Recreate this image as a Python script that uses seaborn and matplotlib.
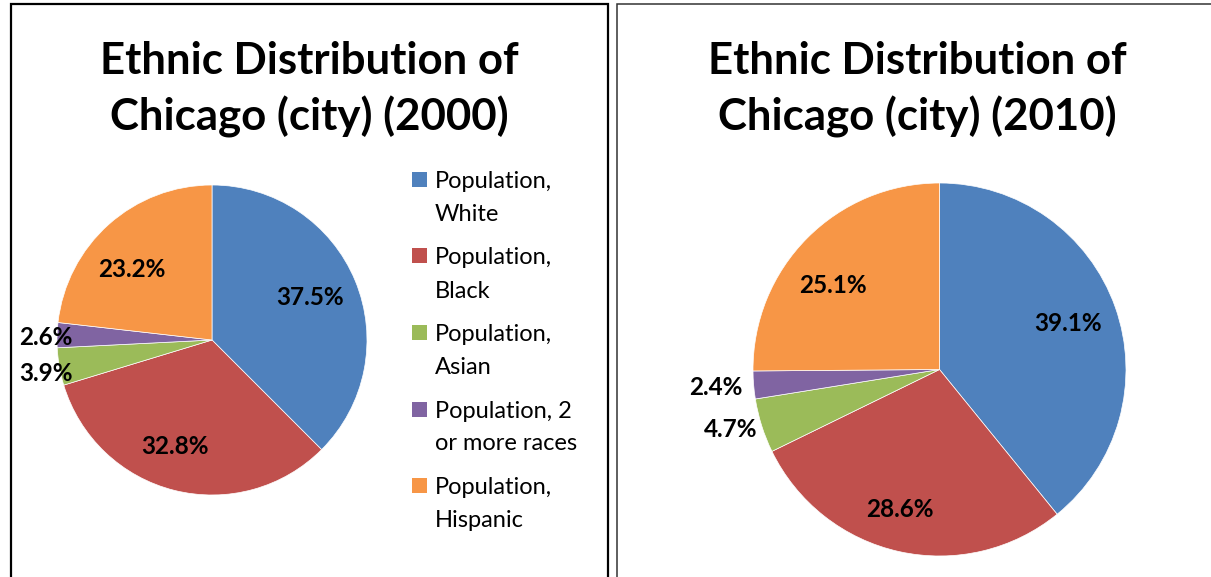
import matplotlib
matplotlib.use("Agg")
import matplotlib.pyplot as plt
from matplotlib.patches import Rectangle
import seaborn as sns

# Data
groups = ["Population, White", "Population, Black", "Population, Asian",
          "Population, 2 or more races", "Population, Hispanic"]
legend_labels = ["Population,\nWhite", "Population,\nBlack", "Population,\nAsian",
                 "Population, 2\nor more races", "Population,\nHispanic"]
share_2000 = [37.5, 32.8, 3.9, 2.6, 23.2]
share_2010 = [39.1, 28.6, 4.7, 2.4, 25.1]
years = ["2000", "2010"]

sns.set_theme(style="white")
plt.rcParams['font.family'] = ['Lato', 'DejaVu Sans']
plt.rcParams['text.color'] = 'black'

colors = sns.color_palette(["#4F81BD", "#C0504D", "#9BBB59", "#8064A2", "#F79646"])

W, H = 1211, 577
fig = plt.figure(figsize=(W / 100, H / 100), dpi=100)

def fx(px):
    return px / W

def fy(py):
    return 1 - py / H

# panel borders
fig.add_artist(Rectangle((fx(11), fy(600)), fx(597), fy(4) - fy(600), transform=fig.transFigure,
                         fill=False, edgecolor="black", linewidth=1.6))
fig.add_artist(Rectangle((fx(616.5), fy(600)), fx(598), fy(4) - fy(600), transform=fig.transFigure,
                         fill=False, edgecolor="#333333", linewidth=1.1))

# where each pie sits (pixels) and where its labels go (in radius units)
layouts = [
    dict(cx=212, cy=340, r=155, title_x=309,
         label_pos=[(0.632, 0.271, "center"), (-0.239, -0.690, "center"),
                    (-0.897, -0.219, "right"), (-0.897, 0.013, "right"),
                    (-0.516, 0.452, "center")]),
    dict(cx=939.5, cy=369.5, r=186.5, title_x=917,
         label_pos=[(0.689, 0.249, "center"), (-0.212, -0.753, "center"),
                    (-0.979, -0.324, "right"), (-1.054, -0.099, "right"),
                    (-0.571, 0.453, "center")]),
]

for year, values, lay in zip(years, [share_2000, share_2010], layouts):
    lim = 1.3
    half = lay["r"] * lim
    ax = fig.add_axes([fx(lay["cx"] - half), fy(lay["cy"] + half), fx(2 * half), fy(0) - fy(2 * half)])
    ax.pie(values, colors=colors, startangle=90, counterclock=False, radius=1,
           wedgeprops=dict(edgecolor="white", linewidth=0.5))
    ax.set_xlim(-lim, lim)
    ax.set_ylim(-lim, lim)
    ax.set_aspect("equal")
    ax.axis("off")
    for v, (lx, ly, ha) in zip(values, lay["label_pos"]):
        ax.text(lx, ly, f"{v:.1f}%", ha=ha, va="center", fontsize=17.5,
                fontweight="bold", color="black")

    # two-line title
    fig.text(fx(lay["title_x"]), fy(74), "Ethnic Distribution of", ha="center", va="baseline",
             fontsize=31.5, fontweight="bold", color="black")
    fig.text(fx(lay["title_x"]), fy(130), f"Chicago (city) ({year})", ha="center", va="baseline",
             fontsize=31.5, fontweight="bold", color="black")

# legend for the 2000 chart
for i, (lab, col) in enumerate(zip(legend_labels, colors)):
    top = 172 + i * 76.5
    fig.add_artist(Rectangle((fx(412), fy(top + 15)), fx(15), fy(0) - fy(15),
                             transform=fig.transFigure, facecolor=col, edgecolor="none"))
    first, second = lab.split("\n")
    fig.text(fx(435), fy(top + 16), first, ha="left", va="baseline", fontsize=17, color="black")
    fig.text(fx(435), fy(top + 49), second, ha="left", va="baseline", fontsize=17, color="black")

fig.savefig("out.png", dpi=100, facecolor="white")
